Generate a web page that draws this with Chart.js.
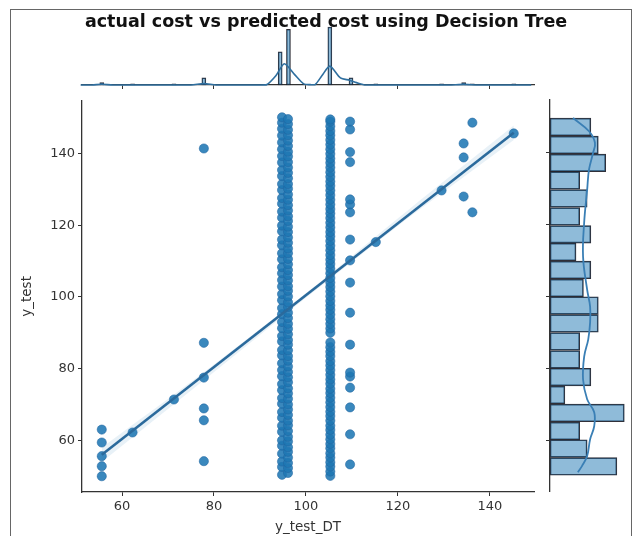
<!DOCTYPE html>
<html><head><meta charset="utf-8">
<script src="https://cdn.jsdelivr.net/npm/chart.js@4.4.1/dist/chart.umd.min.js"></script>
<style>
html,body{margin:0;padding:0;background:#fff;}
#wrap{position:relative;width:640px;height:536px;overflow:hidden;background:#fff;}
#frame{position:absolute;left:10px;top:9px;width:622px;height:540px;border:1.5px solid #666;box-sizing:border-box;pointer-events:none;}
canvas{position:absolute;}
#cTop{left:0;top:0;}
#cMain{left:0;top:90px;}
#cRight{left:540px;top:90px;}
</style></head><body>
<div id="wrap">
<canvas id="cTop" width="640" height="92"></canvas>
<canvas id="cMain" width="545" height="446"></canvas>
<canvas id="cRight" width="100" height="402"></canvas>
<div id="frame"></div>
</div>
<script>
// ---------- data ----------
const chartTitle = 'actual cost vs predicted cost using Decision Tree';
const xLabel = 'y_test_DT';
const yLabel = 'y_test';
const xTicks = [60, 80, 100, 120, 140];
const yTicks = [60, 80, 100, 120, 140];

// scatter columns: predicted value (x) and actual values (y)
const col556 = [50.0, 52.8, 55.6, 59.4, 63.0];
const col623 = [62.2];
const col713 = [71.4];
const col778 = [54.2, 65.6, 68.9, 77.5, 87.2, 141.4];
const col948 = [50.4, 52.6, 54.1, 56.3, 58.5, 60.0, 62.4, 64.1, 66.3, 67.9, 70.2, 71.8, 74.0, 75.7, 77.9, 79.6, 81.5, 83.7, 85.2, 87.6, 89.1, 91.3, 93.0, 95.2, 96.9, 99.1, 100.8, 102.9, 104.7, 106.6, 108.3, 110.5, 112.2, 114.4, 116.0, 118.3, 119.9, 122.1, 123.8, 126.0, 127.6, 129.8, 131.5, 133.7, 135.4, 137.5, 139.3, 141.2, 143.1, 145.0, 146.9, 148.6, 150.1];
const col961 = [50.9, 52.3, 53.7, 55.2, 56.8, 58.1, 59.7, 61.0, 62.6, 64.2, 65.5, 67.1, 68.6, 70.0, 71.6, 73.1, 74.5, 76.2, 77.6, 79.1, 80.6, 82.2, 83.5, 85.1, 86.7, 88.0, 89.6, 91.1, 92.5, 94.1, 95.6, 97.2, 98.5, 100.1, 101.7, 103.0, 104.6, 106.1, 107.5, 109.1, 110.6, 112.2, 113.5, 115.1, 116.6, 118.1, 119.6, 121.2, 122.5, 124.1, 125.6, 127.1, 128.6, 130.2, 131.5, 133.1, 134.6, 136.1, 137.6, 139.2, 140.5, 142.1, 143.6, 145.1, 146.6, 148.2, 149.6];
const col1053 = [50.1, 51.3, 52.7, 53.9, 55.2, 56.4, 57.8, 59.0, 60.3, 61.6, 62.9, 64.1, 65.5, 66.8, 68.0, 69.3, 70.6, 71.9, 73.2, 74.4, 75.8, 77.0, 78.3, 79.6, 80.9, 82.1, 83.5, 84.7, 86.0, 87.3, 90.0, 91.2, 92.5, 93.8, 95.1, 96.4, 97.6, 98.9, 100.2, 101.5, 102.8, 104.0, 105.3, 106.6, 107.9, 109.2, 110.4, 111.7, 113.0, 114.3, 115.6, 116.9, 118.1, 119.4, 120.7, 122.0, 123.3, 124.5, 125.8, 127.1, 128.4, 129.7, 131.0, 132.2, 133.5, 134.8, 136.1, 137.4, 138.6, 139.9, 141.2, 142.5, 143.8, 145.1, 146.3, 147.6, 148.9, 149.5];
const col1096 = [53.3, 61.7, 69.2, 74.7, 77.8, 78.9, 86.7, 95.6, 104.0, 110.2, 116.0, 123.6, 125.8, 127.2, 137.6, 140.4, 146.7, 148.9];
const col1152 = [115.3];
const col1295 = [129.7];
const col1343 = [128.0, 138.9, 142.8];
const col1362 = [123.6, 148.6];
const col1452 = [145.6];
const columnX = [55.6, 62.3, 71.3, 77.8, 94.8, 96.1, 105.3, 109.6, 115.2, 129.5, 134.3, 136.2, 145.2];
const columnY = [col556, col623, col713, col778, col948, col961, col1053, col1096, col1152, col1295, col1343, col1362, col1452];

// regression line and its confidence band
const regX = [55.6, 145.2];
const regY = [56.0, 145.8];
const ciX = [55.6, 78, 100, 122, 145.2];
const ciLow = [54.0, 77.0, 99.8, 121.8, 143.8];
const ciHigh = [58.0, 79.2, 101.0, 124.0, 147.8];

// top marginal histogram (predicted) and its KDE
const topBins = [55.6, 62.3, 71.3, 77.8, 94.4, 96.2, 105.2, 109.8, 115.2, 129.5, 134.3, 136.2, 145.2];
const topCounts = [2, 1, 1, 6, 28, 47, 49, 6, 1, 1, 2, 1, 1];
const kdeTopX = [51, 53.5, 55.6, 58, 75, 77.8, 80.5, 90, 91.5, 93.5, 95.3, 97.5, 99.5, 101, 102, 103.5, 105.2, 107.5, 109.5, 111, 113, 131, 134.3, 137.5, 149];
const kdeTopY = [0, 0, 0.6, 0, 0, 1.2, 0, 0, 0.3, 8, 18, 9, 1, 0.3, 0.3, 8, 16, 6, 4, 2, 0, 0, 0.5, 0, 0];

// right marginal histogram (actual) and its KDE
const rightBins = [52.7, 57.7, 62.6, 67.6, 72.6, 77.6, 82.5, 87.5, 92.5, 97.5, 102.4, 107.4, 112.4, 117.3, 122.3, 127.3, 132.3, 137.2, 142.2, 147.2];
const rightCounts = [18, 10, 8, 20, 4, 11, 8, 8, 13, 13, 9, 11, 7, 11, 8, 10, 8, 15, 13, 11];
const kdeRightY = [51.1, 52.8, 55.6, 60.3, 63.9, 67.8, 71.4, 76.9, 83.3, 88.1, 92.8, 97.2, 101.9, 111.1, 120.6, 129.7, 135.3, 140.0, 142.8, 146.0, 149.7];
const kdeRightX = [7.5, 8.6, 10.0, 10.8, 11.9, 11.9, 10.0, 8.9, 9.2, 10.3, 10.8, 10.8, 10.0, 8.9, 9.2, 10.0, 10.5, 11.6, 12.1, 10.5, 6.2];

// ---------- drawing ----------
Chart.defaults.font.family = "'DejaVu Sans', sans-serif";
Chart.defaults.color = '#333';
Chart.defaults.animation = false;
const AX = '#333';
const X_MIN = 51.3, X_MAX = 149.6, Y_MIN = 45.6, Y_MAX = 154.7;
const histFill = 'rgba(31,119,180,0.5)';
const histEdge = 'rgba(25,25,35,0.9)';
const setTicks = (list) => (s) => { s.ticks = list.map(v => ({ value: v })); };

const scatterPts = [];
columnX.forEach((x, i) => columnY[i].forEach(y => scatterPts.push({ x, y })));

// Top marginal
new Chart(document.getElementById('cTop'), {
  type: 'bar',
  data: {
    datasets: [
      { type: 'line', data: kdeTopX.map((x, i) => ({ x, y: kdeTopY[i] })), borderColor: '#2f6f9f', borderWidth: 1.6, pointRadius: 0, tension: 0.25, order: 0, clip: false },
      { type: 'bar', data: topBins.map((x, i) => ({ x, y: topCounts[i] })), backgroundColor: histFill, borderColor: histEdge, borderWidth: 0.8, borderSkipped: false, barThickness: 4, order: 1, clip: false }
    ]
  },
  options: {
    responsive: false, devicePixelRatio: 1, animation: false,
    layout: { padding: { left: 12, right: 0, top: 0, bottom: 0 } },
    plugins: {
      legend: { display: false }, tooltip: { enabled: false },
      title: { display: true, text: chartTitle, color: '#111', font: { size: 17.5, weight: 'bold' }, padding: { top: 12, bottom: 0 } }
    },
    scales: {
      x: { type: 'linear', offset: false, min: X_MIN, max: X_MAX, afterBuildTicks: setTicks(xTicks),
           ticks: { display: false }, grid: { offset: false, drawOnChartArea: false, drawTicks: true, tickLength: 4, color: AX, lineWidth: 1 },
           border: { display: true, color: AX, width: 1.3 }, afterFit: s => { s.height = 7; } },
      y: { type: 'linear', min: 0, max: 44, display: true, ticks: { display: false }, grid: { display: false }, border: { display: false }, afterFit: s => { s.width = 70; } },
      y2: { type: 'linear', position: 'right', display: true, ticks: { display: false }, grid: { display: false }, border: { display: false }, afterFit: s => { s.width = 106; } }
    }
  }
});

// Main joint plot
new Chart(document.getElementById('cMain'), {
  type: 'scatter',
  data: {
    datasets: [
      { data: regX.map((x, i) => ({ x, y: regY[i] })), showLine: true, borderColor: '#2b6a9c', borderWidth: 2.6, pointRadius: 0, order: 0 },
      { data: ciX.map((x, i) => ({ x, y: ciLow[i] })), showLine: true, borderWidth: 0, borderColor: 'rgba(0,0,0,0)', pointRadius: 0, fill: false, order: 1 },
      { data: ciX.map((x, i) => ({ x, y: ciHigh[i] })), showLine: true, borderWidth: 0, borderColor: 'rgba(0,0,0,0)', pointRadius: 0, fill: '-1', backgroundColor: 'rgba(31,119,180,0.1)', tension: 0.3, order: 1 },
      { data: scatterPts, pointRadius: 4.6, pointBackgroundColor: 'rgba(31,119,180,0.88)', pointBorderColor: 'rgba(31,100,160,0.9)', pointBorderWidth: 0.6, order: 2 }
    ]
  },
  options: {
    responsive: false, devicePixelRatio: 1, animation: false,
    layout: { padding: { left: 0, right: 11, top: 10, bottom: 0 } },
    plugins: { legend: { display: false }, tooltip: { enabled: false } },
    scales: {
      x: { type: 'linear', min: X_MIN, max: X_MAX, afterBuildTicks: setTicks(xTicks),
           ticks: { font: { size: 13 }, color: '#333', padding: 3, maxRotation: 0 },
           grid: { drawOnChartArea: false, drawTicks: true, tickLength: 4, color: AX },
           border: { color: AX, width: 1.3 },
           title: { display: true, text: xLabel, font: { size: 13.5 }, color: '#333', padding: { top: 0, bottom: 0 } },
           afterFit: s => { s.height = 44; } },
      y: { type: 'linear', min: Y_MIN, max: Y_MAX, afterBuildTicks: setTicks(yTicks),
           ticks: { font: { size: 13 }, color: '#333', padding: 3 },
           grid: { drawOnChartArea: false, drawTicks: true, tickLength: 4, color: AX },
           border: { color: AX, width: 1.3 },
           title: { display: true, text: yLabel, font: { size: 13.5 }, color: '#333', padding: { top: 19, bottom: 0 } },
           afterFit: s => { s.width = 82; } }
    }
  }
});

// Right marginal
new Chart(document.getElementById('cRight'), {
  type: 'bar',
  data: {
    datasets: [
      { type: 'line', indexAxis: 'y', data: kdeRightY.map((y, i) => ({ x: kdeRightX[i], y })), borderColor: '#3a7fb5', borderWidth: 1.8, pointRadius: 0, tension: 0.4, order: 0 },
      { type: 'bar', data: rightBins.map((y, i) => ({ x: rightCounts[i], y })), backgroundColor: histFill, borderColor: histEdge, borderWidth: 1, borderSkipped: false, barPercentage: 1, categoryPercentage: 1, order: 1 }
    ]
  },
  options: {
    indexAxis: 'y', responsive: false, devicePixelRatio: 1, animation: false,
    layout: { padding: { left: 0, right: 12, top: 10, bottom: 0 } },
    plugins: { legend: { display: false }, tooltip: { enabled: false } },
    scales: {
      y: { type: 'linear', offset: false, min: Y_MIN, max: Y_MAX, afterBuildTicks: setTicks(yTicks),
           ticks: { display: false }, grid: { offset: false, drawOnChartArea: false, drawTicks: true, tickLength: 4, color: AX },
           border: { display: true, color: AX, width: 1.3 }, afterFit: s => { s.width = 10; } },
      x: { type: 'linear', min: 0, max: 21, display: false }
    }
  }
});
</script>
</body></html>
